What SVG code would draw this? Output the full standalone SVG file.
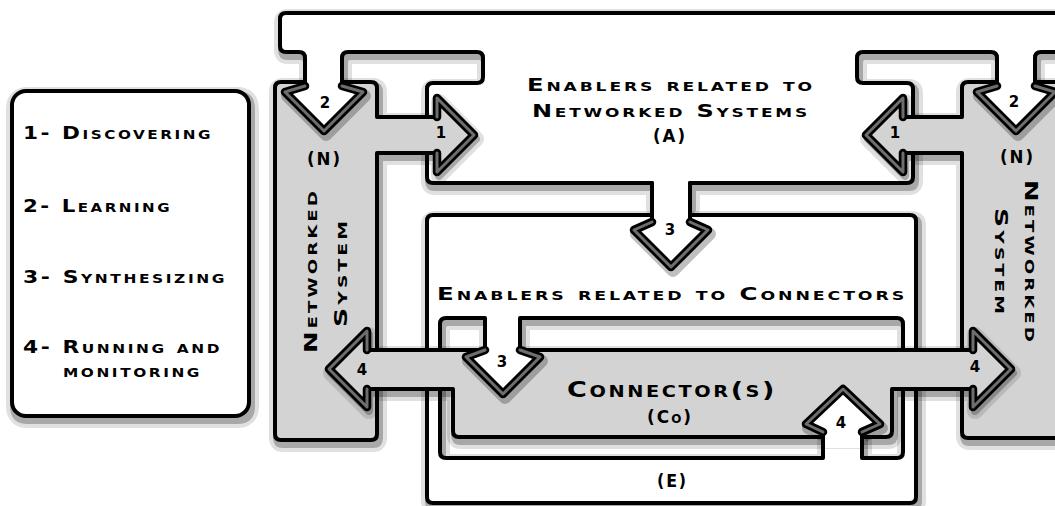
<svg xmlns="http://www.w3.org/2000/svg" width="1055" height="506" viewBox="0 0 1055 506">
<defs>
<style>
.o{stroke:#000;stroke-width:4;stroke-linejoin:round;stroke-linecap:round}
.w{fill:#fff}
.g{fill:#d3d3d3}
.h1{fill:none;stroke:#000;stroke-width:8.5;stroke-linejoin:round;stroke-linecap:round}
.h2{fill:none;stroke:#6e6e6e;stroke-width:3;stroke-linejoin:round;stroke-linecap:round}
.s{fill:none;stroke:#000;stroke-width:4;stroke-linecap:round}
text{font-family:"DejaVu Sans",sans-serif;font-variant:small-caps;font-weight:bold;fill:#000}
.t{font-size:17px;letter-spacing:2px}
.n{font-size:15px;text-anchor:middle;font-variant:normal}
</style>
</defs>
<rect width="1055" height="506" fill="#fff"/>

<g id="legend">
<path fill="none" stroke="#000" stroke-opacity="0.12" stroke-width="16" stroke-linejoin="round" transform="translate(2,4)" d="M26,91 H235 Q249,91 249,105 V402 Q249,416 235,416 H26 Q12,416 12,402 V105 Q12,91 26,91 Z"/>
<path fill="none" stroke="#000" stroke-opacity="0.25" stroke-width="8" stroke-linejoin="round" transform="translate(2,4)" d="M26,91 H235 Q249,91 249,105 V402 Q249,416 235,416 H26 Q12,416 12,402 V105 Q12,91 26,91 Z"/>
<rect x="12" y="91" width="237" height="325" rx="14" class="w o"/>
<text class="t" x="23" y="139" textLength="190" lengthAdjust="spacingAndGlyphs">1- Discovering</text>
<text class="t" x="23" y="212" textLength="149" lengthAdjust="spacingAndGlyphs">2- Learning</text>
<text class="t" x="23" y="283" textLength="204" lengthAdjust="spacingAndGlyphs">3- Synthesizing</text>
<text class="t" x="23" y="353" textLength="199" lengthAdjust="spacingAndGlyphs">4- Running and</text>
<text class="t" x="63" y="377" textLength="139" lengthAdjust="spacingAndGlyphs">monitoring</text>
</g>

<g id="node-A">
<path fill="none" stroke="#000" stroke-opacity="0.12" stroke-width="16" stroke-linejoin="round" transform="translate(2,4)" d="M280,19 Q280,13 286,13 H1062 V52 H1041 Q1035,52 1035,58 V80 H997 V58 Q997,52 991,52 H863 Q857,52 857,58 V77 Q857,83 863,83 H907 Q913,83 913,89 V177 Q913,183 907,183 H690 V205 H652 V183 H433 Q427,183 427,177 V89 Q427,83 433,83 H477 Q483,83 483,77 V58 Q483,52 477,52 H348 Q342,52 342,58 V80 H305 V58 Q305,52 299,52 H286 Q280,52 280,46 Z"/>
<path fill="none" stroke="#000" stroke-opacity="0.25" stroke-width="8" stroke-linejoin="round" transform="translate(2,4)" d="M280,19 Q280,13 286,13 H1062 V52 H1041 Q1035,52 1035,58 V80 H997 V58 Q997,52 991,52 H863 Q857,52 857,58 V77 Q857,83 863,83 H907 Q913,83 913,89 V177 Q913,183 907,183 H690 V205 H652 V183 H433 Q427,183 427,177 V89 Q427,83 433,83 H477 Q483,83 483,77 V58 Q483,52 477,52 H348 Q342,52 342,58 V80 H305 V58 Q305,52 299,52 H286 Q280,52 280,46 Z"/>
<path class="w o" d="M280,19 Q280,13 286,13 H1062 V52 H1041 Q1035,52 1035,58 V80 H997 V58 Q997,52 991,52 H863 Q857,52 857,58 V77 Q857,83 863,83 H907 Q913,83 913,89 V177 Q913,183 907,183 H690 V205 H652 V183 H433 Q427,183 427,177 V89 Q427,83 433,83 H477 Q483,83 483,77 V58 Q483,52 477,52 H348 Q342,52 342,58 V80 H305 V58 Q305,52 299,52 H286 Q280,52 280,46 Z"/>
<text class="t" x="527" y="91" textLength="288" lengthAdjust="spacingAndGlyphs">Enablers related to</text>
<text class="t" x="532" y="117" textLength="278" lengthAdjust="spacingAndGlyphs">Networked Systems</text>
<text class="t" x="653" y="142" textLength="34" lengthAdjust="spacingAndGlyphs">(A)</text>
</g>

<g id="node-N-left">
<path fill="none" stroke="#000" stroke-opacity="0.12" stroke-width="16" stroke-linejoin="round" transform="translate(2,4)" d="M281,82 H371 Q377,82 377,88 V117 H437 V98 L474,135 L437,172 V153 H377 V434 Q377,440 371,440 H281 Q275,440 275,434 V88 Q275,82 281,82 Z"/>
<path fill="none" stroke="#000" stroke-opacity="0.25" stroke-width="8" stroke-linejoin="round" transform="translate(2,4)" d="M281,82 H371 Q377,82 377,88 V117 H437 V98 L474,135 L437,172 V153 H377 V434 Q377,440 371,440 H281 Q275,440 275,434 V88 Q275,82 281,82 Z"/>
<path class="g o" d="M281,82 H371 Q377,82 377,88 V117 H437 V98 L474,135 L437,172 V153 H377 V434 Q377,440 371,440 H281 Q275,440 275,434 V88 Q275,82 281,82 Z"/>
<path class="h1" d="M437,117 V98 L474,135 L437,172 V153"/>
<path class="h2" d="M437,117 V98 L474,135 L437,172 V153"/>
<text class="t" x="307" y="165" textLength="35" lengthAdjust="spacingAndGlyphs">(N)</text>
<text class="t" transform="translate(317,353) rotate(-90)" textLength="165" lengthAdjust="spacingAndGlyphs">Networked</text>
<text class="t" transform="translate(347,327) rotate(-90)" textLength="109" lengthAdjust="spacingAndGlyphs">System</text>
</g>

<g id="node-N-right">
<path fill="none" stroke="#000" stroke-opacity="0.12" stroke-width="16" stroke-linejoin="round" transform="translate(2,4)" d="M1062,82 H968 Q962,82 962,88 V117 H903 V98 L866,135 L903,172 V153 H962 V432 Q962,438 968,438 H1062 Z"/>
<path fill="none" stroke="#000" stroke-opacity="0.25" stroke-width="8" stroke-linejoin="round" transform="translate(2,4)" d="M1062,82 H968 Q962,82 962,88 V117 H903 V98 L866,135 L903,172 V153 H962 V432 Q962,438 968,438 H1062 Z"/>
<path class="g o" d="M1062,82 H968 Q962,82 962,88 V117 H903 V98 L866,135 L903,172 V153 H962 V432 Q962,438 968,438 H1062 Z"/>
<path class="h1" d="M903,117 V98 L866,135 L903,172 V153"/>
<path class="h2" d="M903,117 V98 L866,135 L903,172 V153"/>
<text class="t" x="1000" y="163" textLength="35" lengthAdjust="spacingAndGlyphs">(N)</text>
<text class="t" transform="translate(1025,180) rotate(90)" textLength="165" lengthAdjust="spacingAndGlyphs">Networked</text>
<text class="t" transform="translate(995,208) rotate(90)" textLength="109" lengthAdjust="spacingAndGlyphs">System</text>
</g>

<g id="node-E">
<path fill="none" stroke="#000" stroke-opacity="0.12" stroke-width="16" stroke-linejoin="round" transform="translate(2,4)" d="M433,215 H910 Q916,215 916,221 V497 Q916,503 910,503 H433 Q427,503 427,497 V221 Q427,215 433,215 Z M446,318 H485 V352 H520 V318 H897 Q903,318 903,324 V452 Q903,458 897,458 H862 V432 H823 V458 H446 Q440,458 440,452 V324 Q440,318 446,318 Z"/>
<path fill="none" stroke="#000" stroke-opacity="0.25" stroke-width="8" stroke-linejoin="round" transform="translate(2,4)" d="M433,215 H910 Q916,215 916,221 V497 Q916,503 910,503 H433 Q427,503 427,497 V221 Q427,215 433,215 Z M446,318 H485 V352 H520 V318 H897 Q903,318 903,324 V452 Q903,458 897,458 H862 V432 H823 V458 H446 Q440,458 440,452 V324 Q440,318 446,318 Z"/>
<path class="w o" fill-rule="evenodd" d="M433,215 H910 Q916,215 916,221 V497 Q916,503 910,503 H433 Q427,503 427,497 V221 Q427,215 433,215 Z M446,318 H485 V352 H520 V318 H897 Q903,318 903,324 V452 Q903,458 897,458 H862 V432 H823 V458 H446 Q440,458 440,452 V324 Q440,318 446,318 Z"/>
<text class="t" x="437" y="300" textLength="470" lengthAdjust="spacingAndGlyphs">Enablers related to Connectors</text>
<text class="t" x="657" y="487" textLength="31" lengthAdjust="spacingAndGlyphs">(E)</text>
</g>

<g id="node-Co">
<path fill="none" stroke="#000" stroke-opacity="0.12" stroke-width="16" stroke-linejoin="round" transform="translate(2,4)" d="M367,350 V331 L329,369 L367,407 V389 H453 V431 Q453,437 459,437 H886 Q892,437 892,431 V389 H973 V407 L1011,369 L973,331 V350 Z"/>
<path fill="none" stroke="#000" stroke-opacity="0.25" stroke-width="8" stroke-linejoin="round" transform="translate(2,4)" d="M367,350 V331 L329,369 L367,407 V389 H453 V431 Q453,437 459,437 H886 Q892,437 892,431 V389 H973 V407 L1011,369 L973,331 V350 Z"/>
<path class="g o" d="M367,350 V331 L329,369 L367,407 V389 H453 V431 Q453,437 459,437 H886 Q892,437 892,431 V389 H973 V407 L1011,369 L973,331 V350 Z"/>
<path class="h1" d="M367,350 V331 L329,369 L367,407 V389"/>
<path class="h2" d="M367,350 V331 L329,369 L367,407 V389"/>
<path class="h1" d="M973,350 V331 L1011,369 L973,407 V389"/>
<path class="h2" d="M973,350 V331 L1011,369 L973,407 V389"/>
<text x="567" y="397" style="font-size:21px;letter-spacing:2px" textLength="210" lengthAdjust="spacingAndGlyphs">Connector(s)</text>
<text class="t" x="647" y="423" textLength="46" lengthAdjust="spacingAndGlyphs">(Co)</text>
</g>

<g id="connectors">
<g id="arrow-2-left">
<path fill="none" stroke="#000" stroke-opacity="0.25" stroke-width="12" stroke-linejoin="round" transform="translate(2,4)" d="M305,86 L285,92 L324,131 L363,92 L342,86"/>
<path class="w" d="M305,68 V86 L285,92 L324,131 L363,92 L342,86 V68 Z"/>
<path class="s" d="M305,68 V86 M342,68 V86"/>
<path class="h1" d="M305,86 L285,92 L324,131 L363,92 L342,86"/>
<path class="h2" d="M305,86 L285,92 L324,131 L363,92 L342,86"/>
</g>
<g id="arrow-2-right">
<path fill="none" stroke="#000" stroke-opacity="0.25" stroke-width="12" stroke-linejoin="round" transform="translate(2,4)" d="M997,86 L977,92 L1016,131 L1055,92 L1035,86"/>
<path class="w" d="M997,68 V86 L977,92 L1016,131 L1055,92 L1035,86 V68 Z"/>
<path class="s" d="M997,68 V86 M1035,68 V86"/>
<path class="h1" d="M997,86 L977,92 L1016,131 L1055,92 L1035,86"/>
<path class="h2" d="M997,86 L977,92 L1016,131 L1055,92 L1035,86"/>
</g>
<g id="arrow-3-A">
<path fill="none" stroke="#000" stroke-opacity="0.25" stroke-width="12" stroke-linejoin="round" transform="translate(2,4)" d="M652,222 L634,230 L671,267 L708,230 L690,222"/>
<path class="w" d="M652,195 V222 L634,230 L671,267 L708,230 L690,222 V195 Z"/>
<path class="s" d="M652,183 V222 M690,183 V222"/>
<path class="h1" d="M652,222 L634,230 L671,267 L708,230 L690,222"/>
<path class="h2" d="M652,222 L634,230 L671,267 L708,230 L690,222"/>
</g>
<g id="arrow-3-E">
<path fill="none" stroke="#000" stroke-opacity="0.25" stroke-width="12" stroke-linejoin="round" transform="translate(2,4)" d="M485,350 L466,357 L503,394 L540,357 L520,350"/>
<path class="w" d="M485,338 V350 L466,357 L503,394 L540,357 L520,350 V338 Z"/>
<path class="s" d="M485,338 V350 M520,338 V350"/>
<path class="h1" d="M485,350 L466,357 L503,394 L540,357 L520,350"/>
<path class="h2" d="M485,350 L466,357 L503,394 L540,357 L520,350"/>
</g>
<g id="arrow-4-up">
<path fill="none" stroke="#000" stroke-opacity="0.25" stroke-width="12" stroke-linejoin="round" transform="translate(2,4)" d="M823,432 L806,424 L843,389 L880,424 L862,432"/>
<path class="w" d="M823,448 V432 L806,424 L843,389 L880,424 L862,432 V448 Z"/>
<path class="s" d="M823,448 V432 M862,448 V432"/>
<path class="h1" d="M823,432 L806,424 L843,389 L880,424 L862,432"/>
<path class="h2" d="M823,432 L806,424 L843,389 L880,424 L862,432"/>
</g>
<text class="n" x="325" y="108">2</text>
<text class="n" x="1014" y="107">2</text>
<text class="n" x="441" y="138">1</text>
<text class="n" x="895" y="138">1</text>
<text class="n" x="670" y="235">3</text>
<text class="n" x="502" y="367">3</text>
<text class="n" x="362" y="375">4</text>
<text class="n" x="975" y="372">4</text>
<text class="n" x="841" y="428">4</text>
</g>
</svg>
